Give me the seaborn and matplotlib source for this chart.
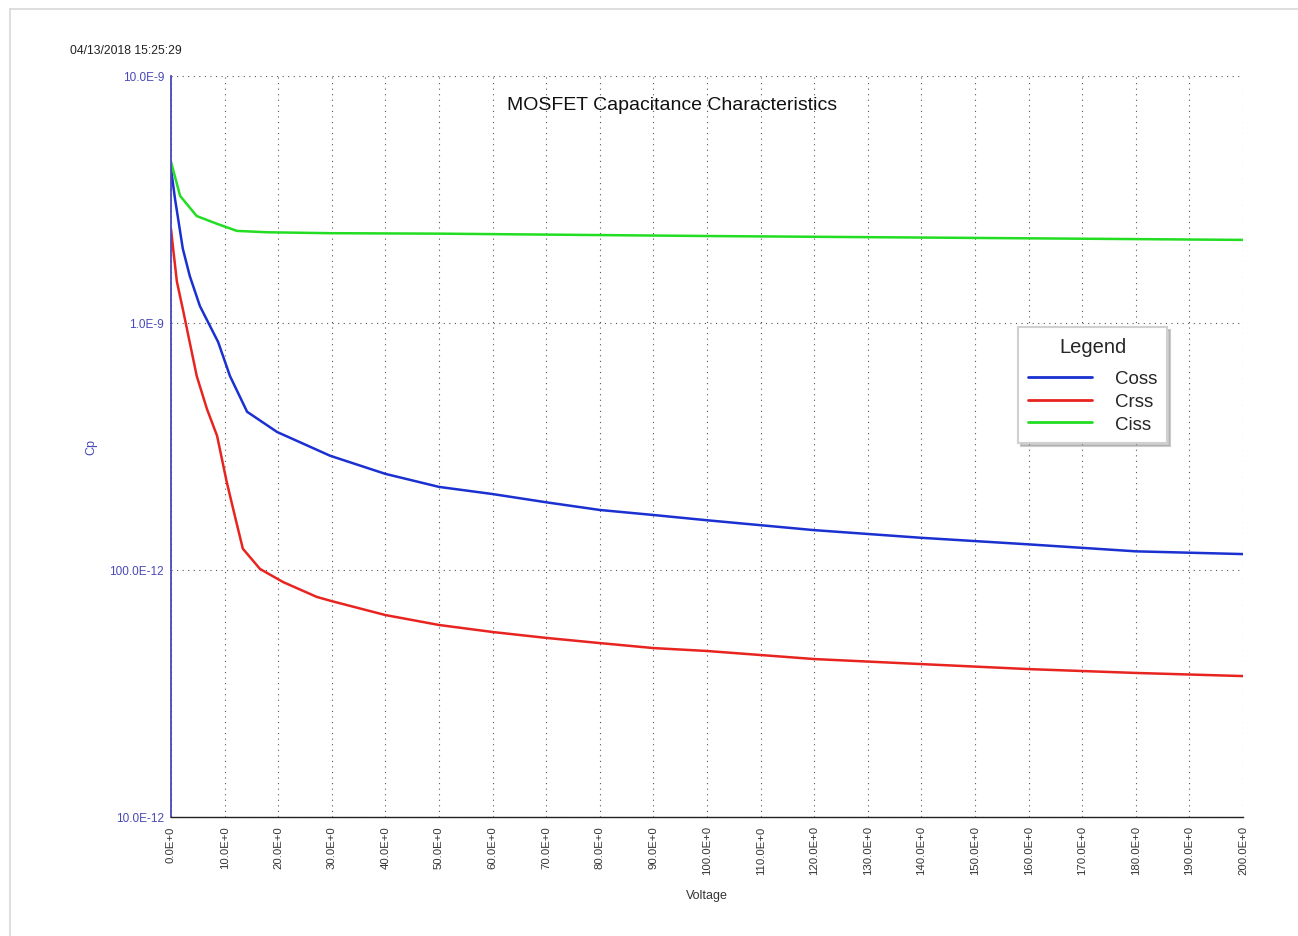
import numpy as np
import pandas as pd
import matplotlib
matplotlib.use("Agg")
import matplotlib.pyplot as plt
import seaborn as sns
from matplotlib.ticker import LogLocator, NullFormatter, FixedFormatter
from matplotlib.lines import Line2D

# Values (voltage in V, capacitance in F)
coss_v = [0, 0.75, 2.2, 3.5, 5.4, 8.8, 11, 14.2, 19.8, 29.7, 40, 50, 60, 70,
          80, 90, 100, 120, 140, 160, 180, 200]
coss_c = [4.20e-9, 3.18e-9, 2.00e-9, 1.55e-9, 1.17e-9, 8.37e-10, 6.10e-10,
          4.37e-10, 3.62e-10, 2.90e-10, 2.45e-10, 2.17e-10, 2.03e-10, 1.88e-10,
          1.75e-10, 1.67e-10, 1.59e-10, 1.45e-10, 1.35e-10, 1.27e-10, 1.19e-10,
          1.16e-10]

crss_v = [0, 0.4, 1.1, 2.2, 4.8, 6.7, 8.6, 10.4, 11.9, 13.4, 16.6, 20.9, 27.2,
          30, 40, 50, 60, 70, 80, 90, 100, 120, 140, 160, 180, 200]
crss_c = [2.40e-9, 2.00e-9, 1.47e-9, 1.14e-9, 6.10e-10, 4.49e-10, 3.49e-10,
          2.27e-10, 1.66e-10, 1.22e-10, 1.01e-10, 8.94e-11, 7.78e-11, 7.48e-11,
          6.57e-11, 5.99e-11, 5.61e-11, 5.31e-11, 5.06e-11, 4.83e-11, 4.70e-11,
          4.36e-11, 4.16e-11, 3.97e-11, 3.83e-11, 3.72e-11]

ciss_v = [0, 1.7, 4.8, 8.6, 12.3, 17.9, 29.7, 50, 100, 150, 200]
ciss_c = [4.49e-9, 3.27e-9, 2.71e-9, 2.52e-9, 2.36e-9, 2.33e-9, 2.31e-9,
          2.30e-9, 2.25e-9, 2.21e-9, 2.17e-9]

x_ticks = list(range(0, 201, 10))
x_labels = [f"{v}.0E+0" for v in x_ticks]
y_ticks = [1e-11, 1e-10, 1e-9, 1e-8]
y_labels = ["10.0E-12", "100.0E-12", "1.0E-9", "10.0E-9"]

series = [("Coss", coss_v, coss_c, "#1a30d0"),
          ("Crss", crss_v, crss_c, "#e82420"),
          ("Ciss", ciss_v, ciss_c, "#22dd22")]

sns.set_style("white")
plt.rcParams['font.family'] = ['Liberation Sans', 'DejaVu Sans']

W, H = 1298, 937
fig = plt.figure(figsize=(W / 100, H / 100), dpi=100)
ax = fig.add_axes([171 / W, 1 - 818 / H, 1072 / W, 741 / H])

for name, v, c, col in series:
    df = pd.DataFrame({"Voltage": v, "Cp": c})
    sns.lineplot(data=df, x="Voltage", y="Cp", color=col, lw=1.8,
                 label=name, ax=ax, sort=True, estimator=None)

ax.set_yscale("log")
ax.set_xlim(0, 200)
ax.set_ylim(1e-11, 1e-8)

# x axis
ax.set_xticks(x_ticks)
ax.set_xticklabels(x_labels)
ax.set_xticks(range(5, 200, 10), minor=True)
ax.tick_params(axis="x", which="both", direction="inout", length=8, width=1,
               color="#222222", labelsize=8.2, labelrotation=90, pad=2,
               labelcolor="#333333")

# y axis
ax.set_yticks(y_ticks)
ax.yaxis.set_major_formatter(FixedFormatter(y_labels))
ax.yaxis.set_minor_locator(LogLocator(base=10, subs=np.arange(2, 10)))
ax.yaxis.set_minor_formatter(NullFormatter())
ax.tick_params(axis="y", which="major", direction="inout", length=8, width=1,
               color="#4848b8", labelsize=8.5, labelcolor="#4848b8", pad=1)
ax.tick_params(axis="y", which="minor", direction="inout", length=5, width=1,
               color="#4848b8")

for s in ["top", "right"]:
    ax.spines[s].set_visible(False)
ax.spines["left"].set_color("#4848b8")
ax.spines["left"].set_linewidth(1.3)
ax.spines["bottom"].set_color("#222222")
ax.spines["bottom"].set_linewidth(1.0)

ax.grid(True, which="major", linestyle=(0, (1, 4)), color="#555555", lw=0.8)
ax.set_axisbelow(True)

ax.set_xlabel("Voltage", fontsize=9, color="#333333")
ax.xaxis.set_label_coords(0.5, -(890 - 818) / 741)
ax.set_ylabel("Cp", fontsize=9, color="#4848b8")
ax.yaxis.set_label_coords(-(171 - 97) / 1072, 0.5)

ax.text((672 - 171) / 1072, (818 - 106) / 741,
        "MOSFET Capacitance Characteristics", transform=ax.transAxes,
        ha="center", va="center", fontsize=14, color="#111111")

leg = ax.legend(title="Legend", loc="upper left",
                bbox_to_anchor=((1018 - 171) / 1072, (818 - 328) / 741),
                borderaxespad=0, fontsize=13.5, title_fontsize=14.5,
                handlelength=3.4, handletextpad=1.2, labelspacing=0.3,
                borderpad=0.55, fancybox=False, frameon=True,
                shadow={"color": "0.6"})
leg._legend_box.sep = 10
leg.get_frame().set_edgecolor("#d0d0d0")
leg.get_frame().set_linewidth(1.5)
for line in leg.get_lines():
    line.set_linewidth(2)

fig.text(70 / W, 1 - 51 / H, "04/13/2018 15:25:29", fontsize=8.8,
         ha="left", va="center", color="#222222")

# light page border
fig.add_artist(Line2D([9.5 / W, 1], [1 - 9.5 / H, 1 - 9.5 / H],
                      color="#d8d8d8", lw=1.2, transform=fig.transFigure))
fig.add_artist(Line2D([9.5 / W, 9.5 / W], [0, 1 - 9.5 / H],
                      color="#d8d8d8", lw=1.2, transform=fig.transFigure))

plt.savefig("out.png", dpi=100)
plt.clf()
